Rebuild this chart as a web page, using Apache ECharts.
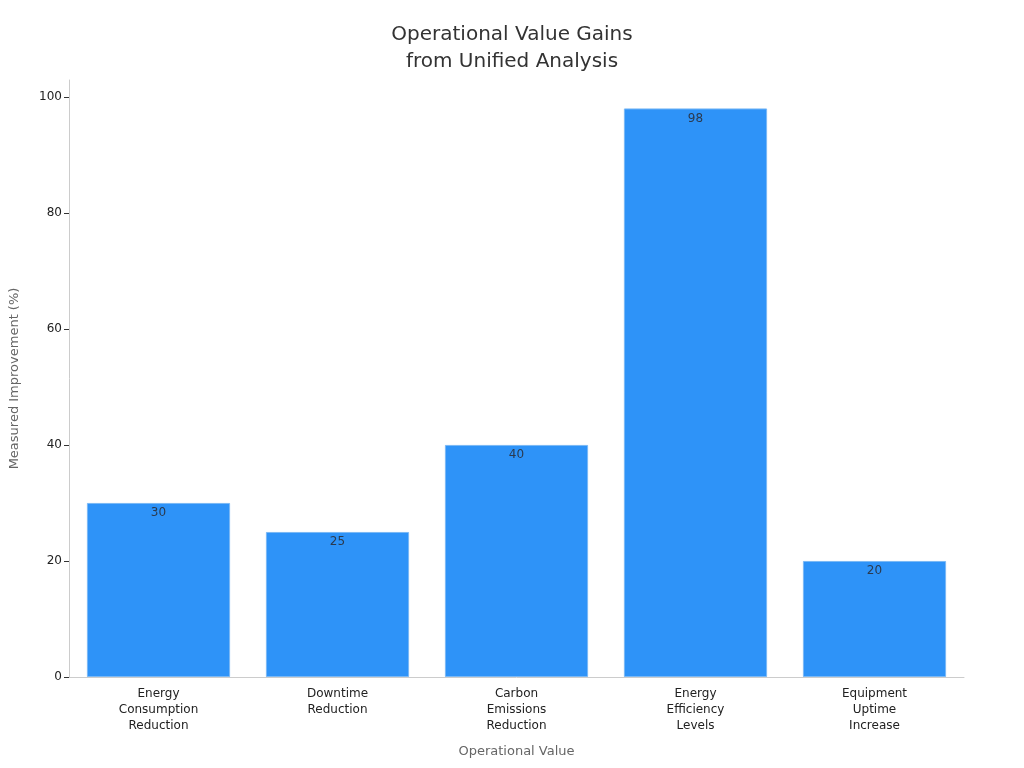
<!DOCTYPE html>
<html>
<head>
<meta charset="utf-8">
<script src="https://cdn.jsdelivr.net/npm/echarts@6/dist/echarts.min.js"></script>
<style>
  html, body { margin: 0; padding: 0; background: #fff; }
  #chart { width: 1024px; height: 768px; }
</style>
</head>
<body>
<div id="chart"></div>
<script>
// values
const categories = [
    'Energy\nConsumption\nReduction',
    'Downtime\nReduction',
    'Carbon\nEmissions\nReduction',
    'Energy\nEfficiency\nLevels',
    'Equipment\nUptime\nIncrease'
];
const improvement = [30, 25, 40, 98, 20];

const chart = echarts.init(document.getElementById('chart'));

const option = {
    backgroundColor: '#ffffff',
    textStyle: { fontFamily: 'DejaVu Sans' },
    title: {
        text: 'Operational Value Gains\nfrom Unified Analysis',
        left: 'center',
        top: 16,
        textStyle: { fontSize: 20, fontWeight: 'normal', color: '#333', lineHeight: 27, fontFamily: 'DejaVu Sans' }
    },
    grid: { left: 66, right: 60, top: 80, bottom: 91 },
    xAxis: {
        type: 'category',
        data: categories,
        name: 'Operational Value',
        nameLocation: 'middle',
        nameGap: 68,
        nameTextStyle: { fontSize: 13, color: '#666' },
        axisLine: { lineStyle: { color: '#ccc' } },
        axisTick: { alignWithLabel: true, length: 5, lineStyle: { color: '#333' } },
        axisLabel: { fontSize: 12, color: '#222', lineHeight: 16, margin: 9, interval: 0 }
    },
    yAxis: {
        type: 'value',
        min: 0,
        max: 102.9,
        interval: 20,
        name: 'Measured Improvement (%)',
        nameLocation: 'middle',
        nameGap: 48,
        nameTextStyle: { fontSize: 13, color: '#666' },
        axisLine: { show: true, lineStyle: { color: '#ccc' } },
        axisTick: { show: true, length: 5, lineStyle: { color: '#333' } },
        axisLabel: { fontSize: 12, color: '#222', margin: 7, showMaxLabel: false },
        splitLine: { show: false }
    },
    series: [{
        type: 'bar',
        data: improvement,
        barCategoryGap: '20%',
        itemStyle: { color: '#2e93f8', borderColor: '#7ab8f5', borderWidth: 1 },
        label: {
            show: true,
            position: 'insideTop',
            distance: 4,
            fontSize: 12,
            color: '#2b3a4f'
        }
    }]
};

chart.setOption(option);
</script>
</body>
</html>
